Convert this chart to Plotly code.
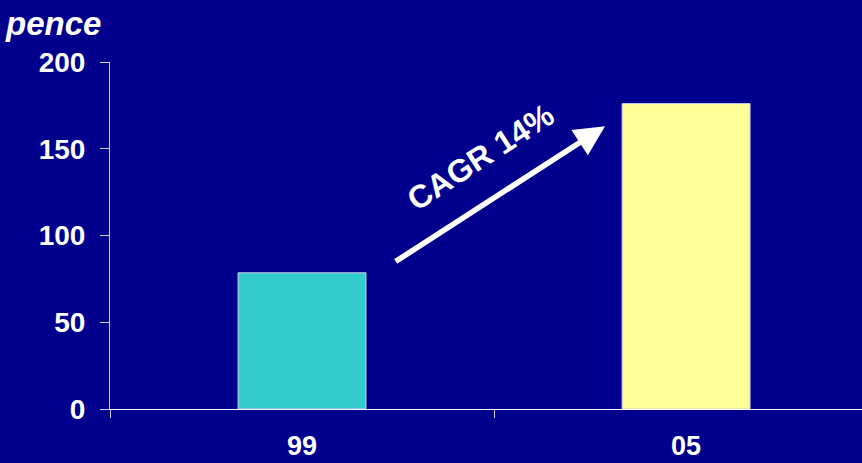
import plotly.graph_objects as go

# Price per share, pence
years = ["99", "05"]
pence = [78.5, 176]
bar_colors = ["#33CCCC", "#FFFF99"]
y_ticks = [0, 50, 100, 150, 200]
cagr_label = "CAGR 14%"

bg = "#00008C"
font_family = "Liberation Sans, Arial, sans-serif"

fig = go.Figure(
    go.Bar(
        x=years,
        y=pence,
        marker=dict(color=bar_colors, line=dict(color="#D0D0E8", width=1)),
        hoverinfo="skip",
    )
)

fig.update_layout(
    width=862,
    height=463,
    margin=dict(l=110, r=0, t=62, b=54),
    paper_bgcolor=bg,
    plot_bgcolor=bg,
    bargap=0.667,
    showlegend=False,
    font=dict(family=font_family, color="white"),
)

fig.update_xaxes(
    type="category",
    range=[-0.5, 1.458],
    automargin=False,
    showline=True,
    linecolor="white",
    linewidth=1,
    ticks="outside",
    tickson="boundaries",
    ticklen=8,
    tickcolor="#D0D0E8",
    ticklabelstandoff=13,
    tickfont=dict(size=27, family=font_family, weight="bold"),
    showgrid=False,
    zeroline=False,
)

fig.update_yaxes(
    range=[0, 200],
    tickvals=y_ticks,
    automargin=False,
    showline=True,
    linecolor="#D0D0E8",
    linewidth=1,
    ticks="outside",
    ticklen=9,
    tickcolor="#D0D0E8",
    ticklabelstandoff=9,
    tickfont=dict(size=28, family=font_family, weight="bold"),
    showgrid=False,
    zeroline=False,
)

# Unit label above the value axis
fig.add_annotation(
    text="<b><i>pence</i></b>",
    xref="paper", yref="paper",
    x=-0.142, y=1.0, xanchor="left", yanchor="bottom", yshift=18,
    showarrow=False,
    font=dict(size=33, color="white", family=font_family),
)

# Growth arrow from the first bar toward the second
fig.add_annotation(
    x=0.789, y=pence[1] - 13,
    ax=0.24, ay=pence[0] + 6,
    xref="x", yref="y", axref="x", ayref="y",
    text="",
    showarrow=True,
    arrowhead=2,
    arrowsize=1.1,
    arrowwidth=5.5,
    arrowcolor="white",
)

fig.add_annotation(
    text="<b>" + cagr_label + "</b>",
    x=0.465, y=(pence[0] + pence[1]) / 2 + 18,
    xref="x", yref="y",
    showarrow=False,
    textangle=-33,
    font=dict(size=32, color="white", family=font_family),
)

fig.write_html("out.html")
